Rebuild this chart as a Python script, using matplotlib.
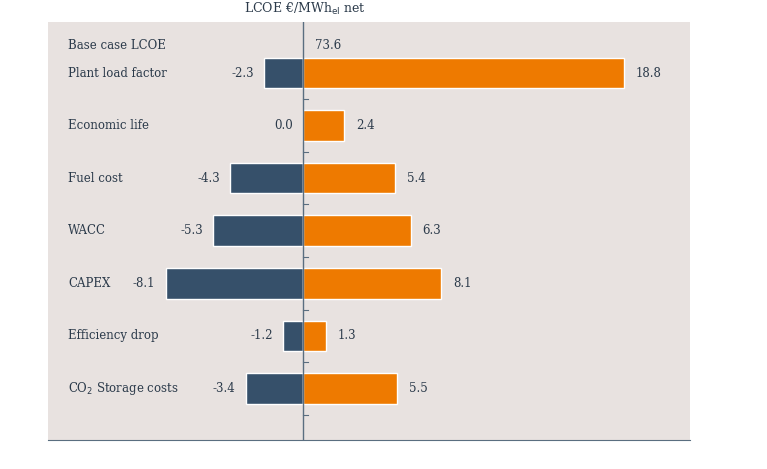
import matplotlib.pyplot as plt
import numpy as np

categories = ['Plant load factor', 'Economic life', 'Fuel cost', 'WACC', 'CAPEX',
              'Efficiency drop', 'CO$_2$ Storage costs']
low = [-2.3, 0.0, -4.3, -5.3, -8.1, -1.2, -3.4]
high = [18.8, 2.4, 5.4, 6.3, 8.1, 1.3, 5.5]
base_label = 'Base case LCOE'
base_value = 73.6

bg = '#e8e2e0'
blue = '#36506a'
orange = '#ee7a00'
txt = '#2b3a4a'

fig = plt.figure(figsize=(7.67, 4.69), dpi=100)
ax = fig.add_axes([48/767, 29/469, 642/767, 418/469])
ax.set_facecolor(bg)
fig.patch.set_facecolor('white')

y = np.arange(len(categories))
ax.barh(y, low, height=0.58, color=blue, edgecolor='white', linewidth=1)
ax.barh(y, high, height=0.58, color=orange, edgecolor='white', linewidth=1)

ax.set_xlim(-15.0, 22.7)
ax.set_ylim(6.98, -0.97)
ax.axvline(0, color='#5a6e80', lw=1)

font = dict(family='DejaVu Serif', fontsize=8.5, color=txt)
lx = -13.8
ax.text(lx, -0.53, base_label, va='center', **font)
ax.text(0.7, -0.53, f'{base_value:.1f}', va='center', **font)
for i, (c, l, h) in enumerate(zip(categories, low, high)):
    ax.text(lx, i, c, va='center', **font)
    ax.text(min(l, 0) - 0.6, i, f'{l:.1f}', va='center', ha='right', **font)
    ax.text(h + 0.7, i, f'{h:.1f}', va='center', ha='left', **font)
for yy in np.arange(0.5, 7, 1):
    ax.plot([0, 0.25], [yy, yy], color='#5a6e80', lw=0.8)

for s in ['top', 'left', 'right']:
    ax.spines[s].set_visible(False)
ax.spines['bottom'].set_color('#5a6e80')
ax.set_xticks([])
ax.set_yticks([])

fig.text(305/767, 1 - 9/469, 'LCOE €/MWh$_{\\rm el}$ net', ha='center', va='center',
         family='DejaVu Serif', fontsize=9, color=txt)

fig.savefig('out.png', dpi=100)
